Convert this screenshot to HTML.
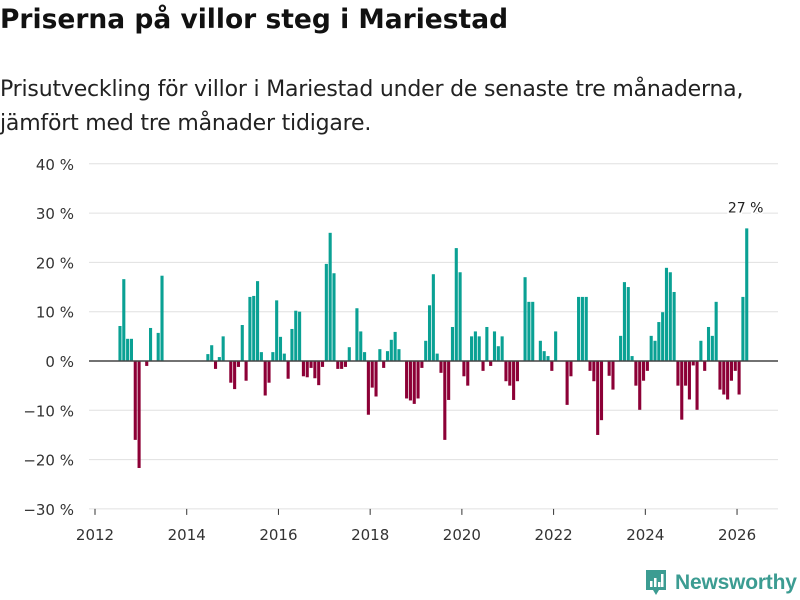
<!DOCTYPE html>
<html><head><meta charset="utf-8">
<style>
html,body{margin:0;padding:0;background:#fff;}
body{width:800px;height:600px;overflow:hidden;position:relative;font-family:"DejaVu Sans","Liberation Sans",sans-serif;color:#111;}
#title{position:absolute;left:0;top:4px;font-size:26.5px;font-weight:bold;letter-spacing:0px;}
#subtitle{position:absolute;left:0;top:73px;font-size:22px;line-height:34px;color:#222;letter-spacing:-0.2px;}
svg{position:absolute;left:0;top:0;}
</style></head>
<body>
<div id="title">Priserna på villor steg i Mariestad</div>
<div id="subtitle">Prisutveckling för villor i Mariestad under de senaste tre månaderna,<br>jämfört med tre månader tidigare.</div>
<svg id="chart" width="800" height="600"></svg>
<div style="position:absolute;left:645px;top:569px;display:flex;align-items:center;">
  <svg width="22" height="28" viewBox="0 0 22 28" style="position:static"><path d="M1 1h20v20h-7l-3 5-3-5H1z" fill="#3c9c92"/><rect x="5" y="12" width="2.5" height="6" fill="#fff"/><rect x="9" y="9" width="2.5" height="9" fill="#fff"/><rect x="13" y="13" width="2.5" height="5" fill="#fff"/><rect x="16" y="5" width="2.5" height="13" fill="#fff"/></svg>
  <span style="font-family:'Liberation Sans',sans-serif;font-size:21px;font-weight:bold;color:#3c9c92;margin-left:8px;letter-spacing:-0.2px;">Newsworthy</span>
</div>
<script>
const startMonth = 6; // July 2012, months counted from Jan 2012
const values = [7.1,16.6,4.5,4.5,-16,-21.7,0,-1,6.7,0,5.7,17.3,
0,0,0,0,0,0,0,0,0,0,0,
1.4,3.2,-1.6,0.8,5,
0,
-4.4,-5.7,-1.2,7.3,-4,13,13.2,16.2,1.8,-7,-4.4,1.8,12.3,4.9,
1.5,-3.6,6.5,10.2,10,-3.1,-3.3,-1.4,-3.5,-4.9,-1.2,19.7,26,17.8,-1.6,-1.6,-1.2,
2.8,0,10.7,6,1.8,-10.9,-5.4,-7.2,2.4,-1.4,2,4.3,5.9,2.4,
0,-7.6,-8,-8.7,-7.6,-1.4,4.1,11.3,17.6,1.5,-2.4,
-16,-7.9,6.9,22.9,18,-3.1,-5,5,6,5,-2,6.9,-1,6,3,5,-4.1,-5,-7.9,-4.1,
0,17,12,12,0,4.1,2,1,-2,6,0,0,-8.9,-3.1,0,13,13,13,-2,-4.1,-15,-12,
0,-3,-5.8,0,5.1,16,15,1,-5,-9.9,-4,-2,5.1,4.1,7.9,9.9,18.9,18,14,-5,-11.9,-5,-7.8,-0.9,-9.9,4.1,-2,6.9,5.1,12,-5.8,-6.8,-7.8,-4,-2,-6.8,13,26.9];
const yTicks = [40,30,20,10,0,-10,-20,-30];
const yTickLabels = ["40 %","30 %","20 %","10 %","0 %","−10 %","−20 %","−30 %"];
const xTicks = [2012,2014,2016,2018,2020,2022,2024,2026];
const lastLabel = "27 %";

const NS="http://www.w3.org/2000/svg";
const svg=document.getElementById('chart');
const y=v=>361 - v*4.93;
const xm=m=>95 + m*45.86/12;
const xy=yr=>xm((yr-2012)*12);
function mk(t,a){const e=document.createElementNS(NS,t);for(const k in a)e.setAttribute(k,a[k]);svg.appendChild(e);return e;}

yTicks.forEach((t,i)=>{
  const g=mk('line',{x1:89,x2:778,y1:y(t),y2:y(t),stroke:'#e0e0e0','stroke-width':1});
  
  
  const l=mk('text',{x:74,y:y(t)+6,'text-anchor':'end','font-size':15,fill:'#333','font-family':'DejaVu Sans, Liberation Sans, sans-serif'});
  l.textContent=yTickLabels[i];
  
  
});
xTicks.forEach(yr=>{
  const tk=mk('line',{x1:xy(yr),x2:xy(yr),y1:y(-30),y2:y(-30)+6,stroke:'#333','stroke-width':1});
  
  
  const l=mk('text',{x:xy(yr),y:540,'text-anchor':'middle','font-size':15,fill:'#333','font-family':'DejaVu Sans, Liberation Sans, sans-serif'});
  l.textContent=yr;
  
  
});
values.forEach((v,i)=>{
  if(!v) return;
  const m=startMonth+i;
  const x0=xm(m)+0.5;
  const r=mk('rect',{x:x0,y:Math.min(y(v),y(0)),width:3.1,height:Math.abs(y(v)-y(0)),fill:v>0?'#0aa194':'#8c0036'});
  
  
});
const zl=mk('line',{x1:89,x2:778,y1:y(0),y2:y(0),stroke:'#444','stroke-width':1.6});


const lm=startMonth+values.length-1;
const lb=mk('text',{x:xm(lm)+1,y:y(values[values.length-1])-16,'text-anchor':'middle','font-size':14,fill:'#222','font-family':'DejaVu Sans, Liberation Sans, sans-serif',stroke:'#fff','stroke-width':3,'paint-order':'stroke'});
lb.textContent=lastLabel;


</script>
</body></html>
